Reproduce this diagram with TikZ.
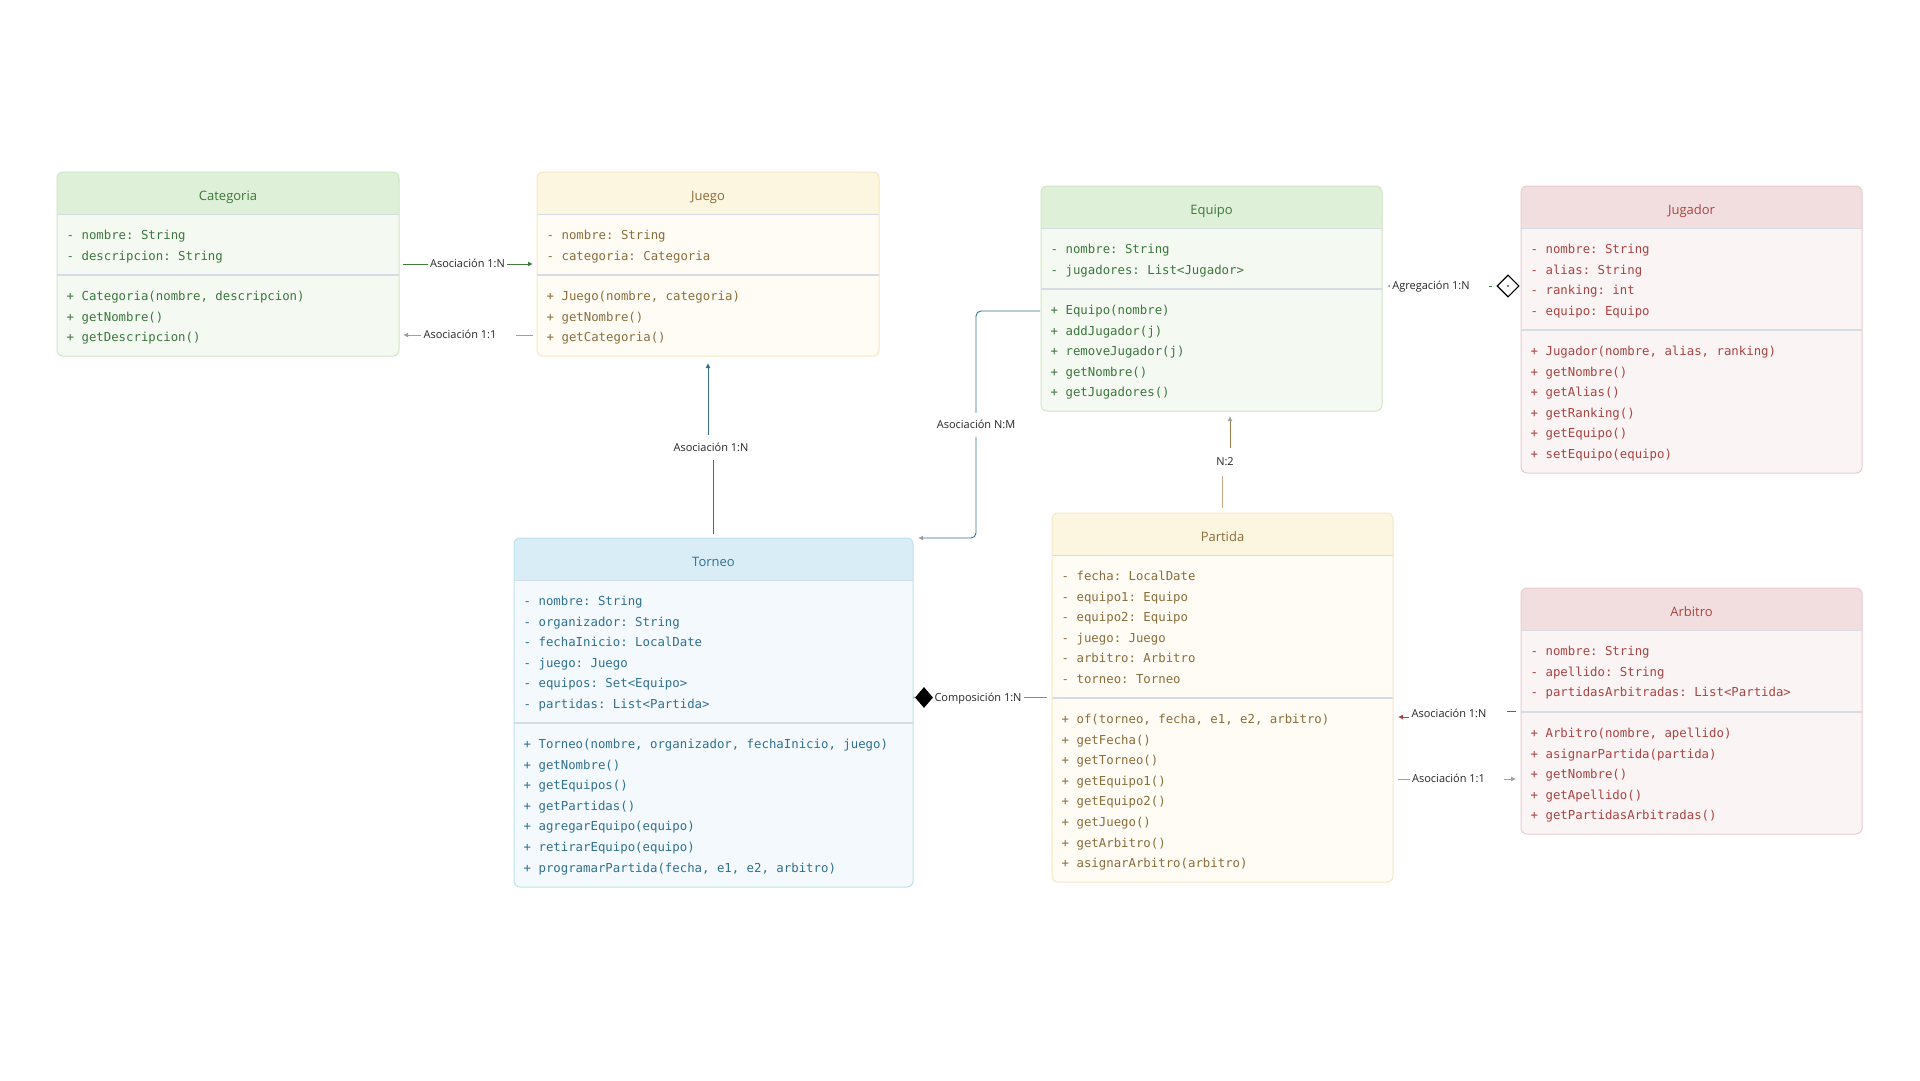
\documentclass[tikz,border=0pt]{standalone}
\usepackage{fontspec}
\usetikzlibrary{arrows.meta,shapes.geometric}
\newfontfamily\uisans{Open Sans}
\newfontfamily\uimono{DejaVu Sans Mono}
\frenchspacing

\pgfdeclarelayer{canvas}
\pgfdeclarelayer{conn}
\pgfsetlayers{canvas,conn,main}

% class themes
\definecolor{grnHead}{HTML}{DFF0D8}
\definecolor{grnBody}{HTML}{F4FAF2}
\definecolor{grnEdge}{HTML}{D0E6C6}
\definecolor{grnText}{HTML}{3C763D}
\definecolor{ylwHead}{HTML}{FCF5E0}
\definecolor{ylwBody}{HTML}{FFFCF5}
\definecolor{ylwEdge}{HTML}{F6E7C6}
\definecolor{ylwText}{HTML}{8A6D3B}
\definecolor{bluHead}{HTML}{D9EDF7}
\definecolor{bluBody}{HTML}{F3F9FC}
\definecolor{bluEdge}{HTML}{BCE2F0}
\definecolor{bluText}{HTML}{31708F}
\definecolor{redHead}{HTML}{F2DEDE}
\definecolor{redBody}{HTML}{FAF4F4}
\definecolor{redEdge}{HTML}{EBCCD1}
\definecolor{redText}{HTML}{A94442}
\definecolor{divColor}{HTML}{D5DCE4}
% connector colours
\definecolor{lnGreen}{HTML}{3C7D3C}
\definecolor{lnGray}{HTML}{A0A0A0}
\definecolor{lnBlue}{HTML}{31708F}
\definecolor{lnBrown}{HTML}{A07C4C}
\definecolor{lnTan}{HTML}{C8AA84}
\definecolor{lnRed}{HTML}{A94442}
\definecolor{lnSteel}{HTML}{6A93AE}

\tikzset{
  clsframe/.style={rectangle, rounded corners=6pt, inner sep=0pt, outer sep=0pt},
  clstitle/.style={anchor=base, inner sep=0pt, font=\uisans\fontsize{13}{15}\selectfont},
  clsline/.style={anchor=base west, inner sep=0pt, font=\uimono\fontsize{12.35}{14}\selectfont},
  divline/.style={draw=divColor, line width=1.2pt},
  elabel/.style={fill=white, inner xsep=2pt, inner ysep=1pt, text height=8pt, text depth=0.5pt,
    text=black!85, font=\uisans\fontsize{11}{13}\selectfont},
  link/.style={line width=0.9pt},
  cGreen/.style={link, draw=lnGreen},
  cGray/.style={link, draw=lnGray},
  cBlue/.style={link, draw=lnBlue},
  cBrown/.style={link, draw=lnBrown},
  cTan/.style={link, draw=lnTan},
  cRed/.style={link, draw=lnRed},
  cSteel/.style={link, draw=lnSteel},
  tipA/.style={-{Latex[length=5pt,width=5pt]}},
}

% #1 name, #2 theme, #3 x1, #4 y1, #5 x2, #6 y2, #7 divider y, #8 title
\newcommand\umlclass[8]{%
  \node[clsframe, fill=#2Body, minimum width={#5-#3}, minimum height={#6-#4}]
    (#1) at ({(#3+#5)/2},{(#4+#6)/2}) {};
  \fill[#2Head, rounded corners=6pt] (#3,#4) rectangle (#5,#4+42.5);
  \fill[#2Head] (#3,#4+20) rectangle (#5,#4+42.5);
  \draw[divline] (#3,#4+42.5) -- (#5,#4+42.5);
  \draw[divline] (#3,#7) -- (#5,#7);
  \draw[#2Edge, line width=1pt, rounded corners=6pt] (#1.north west) rectangle (#1.south east);
  \node[clstitle, text=#2Text] (#1-title) at ({(#3+#5)/2},#4+28) {#8};
}
% #1 name prefix, #2 theme, #3 x, #4 first baseline, #5 lines
\newcommand\umllines[5]{%
  \foreach \txt [count=\k] in {#5} {
    \node[clsline, text=#2Text] (#1\k) at (#3,{#4+(\k-1)*20.6}) {\txt};
  }
}

\begin{document}
\begin{tikzpicture}[x=1pt,y=-1pt]
\begin{pgfonlayer}{canvas}
  \fill[white] (0,0) rectangle (1920,1080);
\end{pgfonlayer}
\useasboundingbox (0,0) rectangle (1920,1080);

% ---------- classes ----------
\umlclass{cat}{grn}{57}{172}{399}{356}{275}{Categoria}
\umllines{cat-a}{grn}{66.5}{239.5}{{- nombre: String},{- descripcion: String}}
\umllines{cat-m}{grn}{66.5}{300.5}{{+ Categoria(nombre, descripcion)},{+ getNombre()},{+ getDescripcion()}}

\umlclass{jue}{ylw}{537}{172}{879}{356}{275}{Juego}
\umllines{jue-a}{ylw}{546.5}{239.5}{{- nombre: String},{- categoria: Categoria}}
\umllines{jue-m}{ylw}{546.5}{300.5}{{+ Juego(nombre, categoria)},{+ getNombre()},{+ getCategoria()}}

\umlclass{equ}{grn}{1041}{186}{1382}{411}{289}{Equipo}
\umllines{equ-a}{grn}{1050.5}{253.5}{{- nombre: String},{- jugadores: List<Jugador>}}
\umllines{equ-m}{grn}{1050.5}{314.5}{{+ Equipo(nombre)},{+ addJugador(j)},{+ removeJugador(j)},{+ getNombre()},{+ getJugadores()}}

\umlclass{jug}{red}{1521}{186}{1862}{473}{330}{Jugador}
\umllines{jug-a}{red}{1530.5}{253.5}{{- nombre: String},{- alias: String},{- ranking: int},{- equipo: Equipo}}
\umllines{jug-m}{red}{1530.5}{355.5}{{+ Jugador(nombre, alias, ranking)},{+ getNombre()},{+ getAlias()},{+ getRanking()},{+ getEquipo()},{+ setEquipo(equipo)}}

\umlclass{tor}{blu}{514}{538}{913}{887}{723}{Torneo}
\umllines{tor-a}{blu}{523.5}{605.5}{{- nombre: String},{- organizador: String},{- fechaInicio: LocalDate},{- juego: Juego},{- equipos: Set<Equipo>},{- partidas: List<Partida>}}
\umllines{tor-m}{blu}{523.5}{748.5}{{+ Torneo(nombre, organizador, fechaInicio, juego)},{+ getNombre()},{+ getEquipos()},{+ getPartidas()},{+ agregarEquipo(equipo)},{+ retirarEquipo(equipo)},{+ programarPartida(fecha, e1, e2, arbitro)}}

\umlclass{par}{ylw}{1052}{513}{1393}{882}{698}{Partida}
\umllines{par-a}{ylw}{1061.5}{580.5}{{- fecha: LocalDate},{- equipo1: Equipo},{- equipo2: Equipo},{- juego: Juego},{- arbitro: Arbitro},{- torneo: Torneo}}
\umllines{par-m}{ylw}{1061.5}{723.5}{{+ of(torneo, fecha, e1, e2, arbitro)},{+ getFecha()},{+ getTorneo()},{+ getEquipo1()},{+ getEquipo2()},{+ getJuego()},{+ getArbitro()},{+ asignarArbitro(arbitro)}}

\umlclass{arb}{red}{1521}{588}{1862}{834}{712}{Arbitro}
\umllines{arb-a}{red}{1530.5}{655.5}{{- nombre: String},{- apellido: String},{- partidasArbitradas: List<Partida>}}
\umllines{arb-m}{red}{1530.5}{737.5}{{+ Arbitro(nombre, apellido)},{+ asignarPartida(partida)},{+ getNombre()},{+ getApellido()},{+ getPartidasArbitradas()}}

% ---------- connector labels ----------
\node[elabel] (l1) at (467.5,264) {Asociación 1:N};
\node[elabel] (l2) at (460,335) {Asociación 1:1};
\node[elabel, minimum height=24pt] (l3) at (711,447.5) {Asociación 1:N};
\node[elabel, minimum height=24pt] (l4) at (976,425) {Asociación N:M};
\node[elabel, minimum height=28pt] (l5) at (1225,462) {N:2};
\node[elabel] (l6) at (1449,714) {Asociación 1:N};
\node[elabel] (l7) at (1448.5,779) {Asociación 1:1};
\node[elabel] (l8) at (1431,286) {Agregación 1:N};
\node[elabel] (l9) at (978,697.5) {Composición 1:N};

% end markers
\node[diamond, draw=black, fill=white, line width=1.1pt, inner sep=0pt,
      minimum width=22pt, minimum height=22pt] (agg) at (1508,286) {};
\fill (agg.center) circle (0.8pt);
\node[diamond, fill=black, inner sep=0pt, minimum width=18pt, minimum height=21pt]
      (comp) at (924,697.5) {};

% ---------- connectors ----------
\begin{pgfonlayer}{conn}
  % Categoria -> Juego
  \draw[cGreen, shorten <=4pt] (cat.east |- l1) -- (l1.west);
  \draw[cGreen, tipA, shorten >=4pt] (l1.east) -- (jue.west |- l1);
  % Juego -> Categoria
  \draw[cGray, shorten <=4pt, shorten >=17pt] (jue.west |- l2) -- (l2.east);
  \draw[cGray, tipA, shorten >=4pt] (l2.west) -- (cat.east |- l2);
  % Torneo -> Juego
  \draw[cBlue, shorten <=4pt] (tor.north) -- (tor.north |- l3.south);
  \draw[cBlue, tipA, shorten >=7pt] (jue.south |- l3.north) -- (jue.south);
  % Equipo -> Torneo
  \draw[cBlue, rounded corners=5pt, -{Latex[length=5pt,width=5pt,color=lnGray]}]
    ([yshift=-12.5pt,xshift=-1pt]equ.west) -| (l4.center) |- ([xshift=5pt]tor.north east);
  % Partida -> Equipo
  \coordinate (e5) at ([xshift=18.5pt]equ.south);
  \draw[cTan, shorten <=5pt] (par.north) -- (par.north |- l5.south);
  \draw[cBrown, -{Latex[length=5pt,width=5pt,color=lnGray]}, shorten >=5pt] (e5 |- l5.north) -- (e5);
  % Arbitro -> Partida
  \coordinate (r6) at ([yshift=-3pt]l6.west);
  \draw[cRed, shorten <=5pt, shorten >=18pt] (arb.west) -- (arb.west -| l6.east);
  \draw[cRed, tipA, shorten >=5pt] (r6) -- (r6 -| par.east);
  % Partida -> Arbitro
  \draw[cGray, shorten <=5pt] (par.east |- l7) -- (l7.west);
  \draw[cGray, tipA, shorten <=17pt, shorten >=5pt] (l7.east) -- (arb.west |- l7);
  % Jugador -> Equipo
  \draw[cGray, -{Latex[length=4pt,width=4pt]}, shorten >=5pt] (l8.west) -- (equ.east |- l8);
  \draw[cGreen, shorten <=4pt, shorten >=17pt] (agg.west) -- (agg.west -| l8.east);
  % Partida -> Torneo
  \draw[cSteel, shorten <=5pt] (par.west) -- (comp.east);
  \draw[cGray, -{Latex[length=4pt,width=4pt]}, shorten >=-3pt] (comp.west) -- (tor.east |- comp);
\end{pgfonlayer}
\end{tikzpicture}
\end{document}
